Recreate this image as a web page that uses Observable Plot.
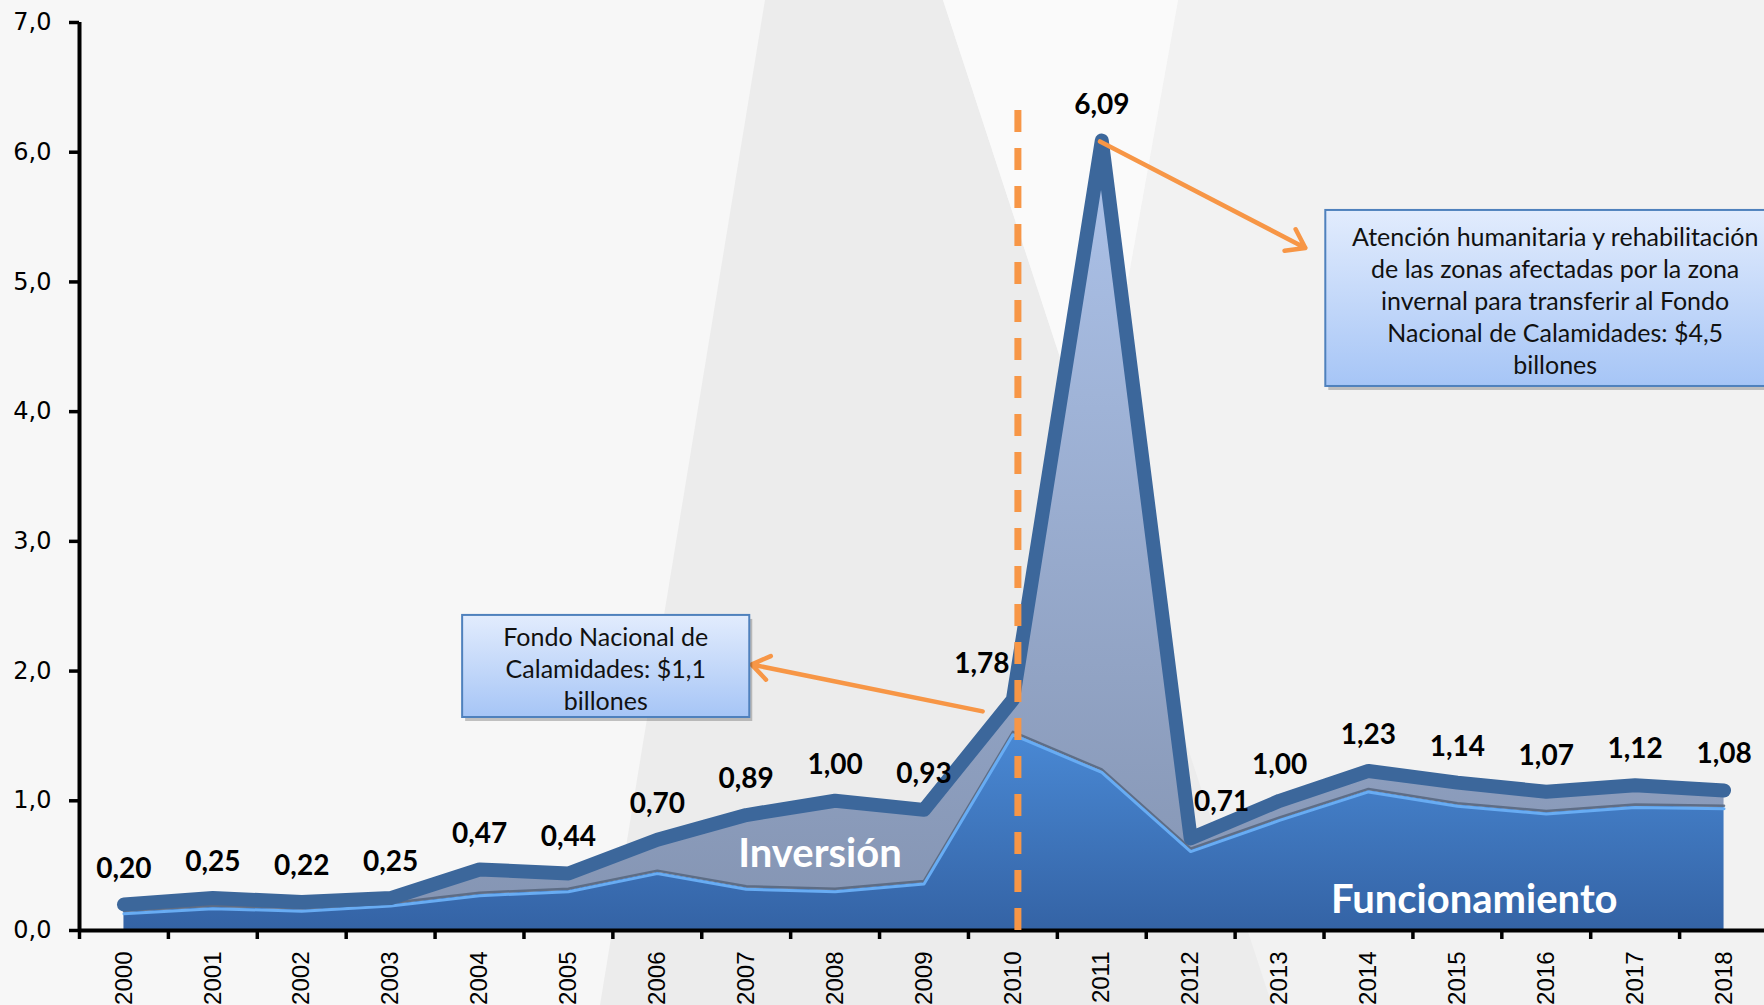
<!DOCTYPE html>
<html><head><meta charset="utf-8">
<script src="https://cdn.jsdelivr.net/npm/d3@7"></script>
<script src="https://cdn.jsdelivr.net/npm/@observablehq/plot@0.6"></script>
<style>html,body{margin:0;padding:0;overflow:hidden;background:#f7f7f7}</style>
</head><body><div id="chart"></div>
<script>
// ---- data ----
const years = [2000,2001,2002,2003,2004,2005,2006,2007,2008,2009,2010,2011,2012,2013,2014,2015,2016,2017,2018];
const totals = [0.20,0.25,0.22,0.25,0.47,0.44,0.70,0.89,1.00,0.93,1.78,6.09,0.71,1.00,1.23,1.14,1.07,1.12,1.08];
const funcionamiento = [0.14,0.18,0.16,0.20,0.28,0.31,0.45,0.33,0.31,0.37,1.52,1.23,0.62,0.86,1.08,0.97,0.91,0.96,0.95];
const inversion = [0.06,0.07,0.06,0.05,0.19,0.13,0.25,0.56,0.69,0.56,0.26,4.86,0.09,0.14,0.15,0.17,0.16,0.16,0.13];
const seriesNames = ["Funcionamiento", "Inversión"];
const yTicks = [0,1,2,3,4,5,6,7];
const yTickLabels = ["0,0","1,0","2,0","3,0","4,0","5,0","6,0","7,0"];
const notes = [
  "Fondo Nacional de\nCalamidades: $1,1\nbillones",
  "Atención humanitaria y rehabilitación\nde las zonas afectadas por la zona\ninvernal para transferir al Fondo\nNacional de Calamidades: $4,5\nbillones"
];
const markedYear = 2010;

// ---- table ----
const rows = years.map((year, i) => ({
  year,
  funcionamiento: funcionamiento[i],
  inversion: inversion[i],
  stackTop: funcionamiento[i] + inversion[i],
  total: totals[i],
  label: totals[i].toFixed(2).replace(".", ",")
}));
const xDomain = [years[0] - 0.5, years[years.length - 1] + 0.5];
const bandEdges = years.map(y => y - 0.5).concat([xDomain[1]]);

const ORANGE = "#f79646";
const labelFont = "Lato, 'Open Sans', sans-serif";

const chart = Plot.plot({
  width: 1764,
  height: 1005,
  marginLeft: 79,
  marginRight: 0,
  marginTop: 22,
  marginBottom: 75,
  style: {background: "#f7f7f7", overflow: "hidden", fontFamily: labelFont, color: "#000"},
  x: {domain: xDomain, range: [79, 1768]},
  y: {domain: [0, 7]},
  marks: [
    // areas
    Plot.areaY(rows, {x: "year", y1: 0, y2: "funcionamiento", fill: "url(#funcGrad)"}),
    Plot.areaY(rows, {x: "year", y1: "funcionamiento", y2: "stackTop", fill: "url(#invGrad)"}),
    Plot.lineY(rows, {x: "year", y: "funcionamiento", stroke: "#56657c", strokeWidth: 2.5, dy: -1.5, strokeOpacity: 0.85}),
    Plot.lineY(rows, {x: "year", y: "funcionamiento", stroke: "#68acf3", strokeWidth: 3, dy: 1.5}),
    // total line
    Plot.lineY(rows, {x: "year", y: "total", stroke: "#3c679b", strokeWidth: 14, strokeLinecap: "round", strokeLinejoin: "round"}),
    // axes
    Plot.ruleY([0], {stroke: "#000", strokeWidth: 4}),
    Plot.ruleX([xDomain[0]], {stroke: "#000", strokeWidth: 4}),
    Plot.axisX({ticks: bandEdges, tickSize: 9, tickFormat: () => "", strokeWidth: 3.5, stroke: "#000", label: null}),
    Plot.axisX({ticks: years, tickSize: 0, tickPadding: 21, tickRotate: -90, tickFormat: d => String(d),
      fontSize: 24, fontFamily: "'Liberation Sans', Arial, sans-serif", fill: "#000", label: null}),
    Plot.axisY({ticks: yTicks, tickSize: 10, tickPadding: 18, tickFormat: d => yTickLabels[yTicks.indexOf(d)],
      strokeWidth: 3.5, stroke: "#000", fontSize: 24, fontFamily: "'DejaVu Sans', sans-serif", fill: "#000", label: null}),
    // dashed marker
    Plot.ruleX([markedYear], {y1: 0, y2: 6.42, stroke: ORANGE, strokeWidth: 7, strokeDasharray: "22,16", dx: 5}),
    // value labels
    Plot.text(rows.filter(d => d.year !== 2010 && d.year !== 2012), {x: "year", y: "total", text: "label", dy: -36,
      fontSize: 28, fontWeight: "bold", fontFamily: labelFont, fill: "#000"}),
    Plot.text(rows.filter(d => d.year === 2010), {x: "year", y: "total", text: "label", dy: -36, dx: -31,
      fontSize: 28, fontWeight: "bold", fontFamily: labelFont, fill: "#000"}),
    Plot.text(rows.filter(d => d.year === 2012), {x: "year", y: "total", text: "label", dy: -36, dx: 31,
      fontSize: 28, fontWeight: "bold", fontFamily: labelFont, fill: "#000"}),
    // series labels
    Plot.text([seriesNames[1]], {x: 2007.83, y: 0.586, text: d => d, fill: "#fff", fontSize: 40, fontWeight: "bold", fontFamily: labelFont}),
    Plot.text([seriesNames[0]], {x: 2015.19, y: 0.231, text: d => d, fill: "#fff", fontSize: 40, fontWeight: "bold", fontFamily: labelFont}),
    // arrows
    Plot.arrow([0], {x1: 2009.66, y1: 1.689, x2: 2007.06, y2: 2.051, stroke: ORANGE, strokeWidth: 4.5, headLength: 7, headAngle: 70}),
    Plot.arrow([0], {x1: 2010.98, y1: 6.083, x2: 2013.29, y2: 5.262, stroke: ORANGE, strokeWidth: 4.5, headLength: 7, headAngle: 70}),
    // note boxes (shadow + box)
    Plot.rect([0], {x1: 2003.81, x2: 2007.04, y1: 1.642, y2: 2.429, fill: "#000", fillOpacity: 0.22, dx: 3, dy: 4}),
    Plot.rect([0], {x1: 2003.81, x2: 2007.04, y1: 1.642, y2: 2.429, fill: "url(#boxGrad)", stroke: "#4f81bd", strokeWidth: 2}),
    Plot.rect([0], {x1: 2013.52, x2: 2018.7, y1: 4.194, y2: 5.551, fill: "#000", fillOpacity: 0.22, dx: 3, dy: 4}),
    Plot.rect([0], {x1: 2013.52, x2: 2018.7, y1: 4.194, y2: 5.551, fill: "url(#boxGrad)", stroke: "#4f81bd", strokeWidth: 2}),
    Plot.text([notes[0]], {x: 2005.42, y: 2.024, text: d => d, fontSize: 25, lineHeight: 1.27, fontFamily: labelFont, fill: "#111"}),
    Plot.text([notes[1]], {x: 2016.10, y: 4.86, text: d => d, fontSize: 25, lineHeight: 1.28, fontFamily: labelFont, fill: "#111"})
  ]
});

document.getElementById("chart").appendChild(chart);

// decorative background + gradients
const svg = d3.select(chart);
const bg = svg.insert("g", ":first-child");
bg.append("polygon").attr("points", "1178,0 1764,0 1764,1005 998,1005").attr("fill", "#f2f2f2");
bg.append("polygon").attr("points", "765,0 943,0 1272,1005 600,1005").attr("fill", "#ececec");
bg.append("polygon").attr("points", "943,0 1178,0 1095,464").attr("fill", "#fafafa");
const defs = svg.insert("defs", ":first-child");
function grad(id, stops, attrs) {
  const g = defs.append("linearGradient").attr("id", id);
  Object.entries(attrs).forEach(([k, v]) => g.attr(k, v));
  stops.forEach(([o, c]) => g.append("stop").attr("offset", o).attr("stop-color", c));
}
grad("funcGrad", [[0, "#4d8fdc"], [1, "#3463a5"]], {gradientUnits: "userSpaceOnUse", x1: 0, y1: 700, x2: 0, y2: 930});
grad("invGrad", [[0, "#adc3ea"], [1, "#8494b2"]], {gradientUnits: "userSpaceOnUse", x1: 0, y1: 140, x2: 0, y2: 930});
grad("boxGrad", [[0, "#e2ecfd"], [1, "#a6c5f6"]], {x1: 0, y1: 0, x2: 0, y2: 1});
</script>
</body></html>
